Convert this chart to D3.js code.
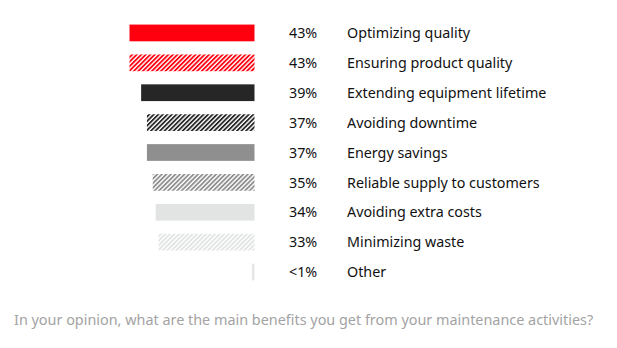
<!DOCTYPE html>
<html>
<head>
<meta charset="utf-8">
<script src="https://cdn.jsdelivr.net/npm/d3@7"></script>
<style>
  body { margin: 0; background: #fff; }
  svg { display: block; font-family: "Noto Sans", sans-serif; }
</style>
</head>
<body>
<svg id="chart" width="617" height="348"></svg>
<script>
// survey answers, top to bottom
const benefits = ['Optimizing quality', 'Ensuring product quality', 'Extending equipment lifetime',
  'Avoiding downtime', 'Energy savings', 'Reliable supply to customers', 'Avoiding extra costs',
  'Minimizing waste', 'Other'];
const shares = [43, 43, 39, 37, 37, 35, 34, 33, 0.9];
const shareLabels = ['43%', '43%', '39%', '37%', '37%', '35%', '34%', '33%', '<1%'];
const question = 'In your opinion, what are the main benefits you get from your maintenance activities?';

// solid / hatched pairs per colour
const fills = ['#ff000f', 'url(#h0)', '#262626', 'url(#h1)', '#8f8f8f', 'url(#h2)', '#e2e3e3', 'url(#h3)', '#e6e6e6'];
const hatchColors = ['#ff000f', '#262626', '#8f8f8f', '#e2e3e3'];

const svg = d3.select('#chart');
const defs = svg.append('defs');

hatchColors.forEach((c, i) => {
  const p = defs.append('pattern')
    .attr('id', 'h' + i)
    .attr('patternUnits', 'userSpaceOnUse')
    .attr('width', 3.2)
    .attr('height', 3.2)
    .attr('patternTransform', 'rotate(45)');
  p.append('rect').attr('width', 3.2).attr('height', 3.2).attr('fill', '#fff');
  p.append('rect').attr('width', 1.8).attr('height', 3.2).attr('fill', c);
});

const x = d3.scaleLinear().domain([0, 43]).range([254.5, 129.5]);
const y = d3.scaleBand().domain(benefits).range([18, 287]).paddingInner(0.44).paddingOuter(0.22);

svg.selectAll('rect.bar')
  .data(benefits)
  .join('rect')
  .attr('class', 'bar')
  .attr('x', (d, i) => x(shares[i]))
  .attr('y', d => y(d))
  .attr('width', (d, i) => x(0) - x(shares[i]))
  .attr('height', y.bandwidth())
  .attr('fill', (d, i) => fills[i]);

svg.selectAll('text.pct')
  .data(shareLabels)
  .join('text')
  .attr('class', 'pct')
  .attr('x', 289)
  .attr('y', (d, i) => y(benefits[i]) + y.bandwidth() / 2)
  .attr('dy', '0.36em')
  .text(d => d)
  .style('font-size', '14.3px')
  .style('fill', '#111');

svg.selectAll('text.name')
  .data(benefits)
  .join('text')
  .attr('class', 'name')
  .attr('x', 347)
  .attr('y', d => y(d) + y.bandwidth() / 2)
  .attr('dy', '0.36em')
  .text(d => d)
  .style('font-size', '14.3px')
  .style('fill', '#111');

svg.append('text')
  .attr('x', 14)
  .attr('y', 325)
  .text(question)
  .style('font-size', '14.4px')
  .style('fill', '#a3a3a3');
</script>
</body>
</html>
